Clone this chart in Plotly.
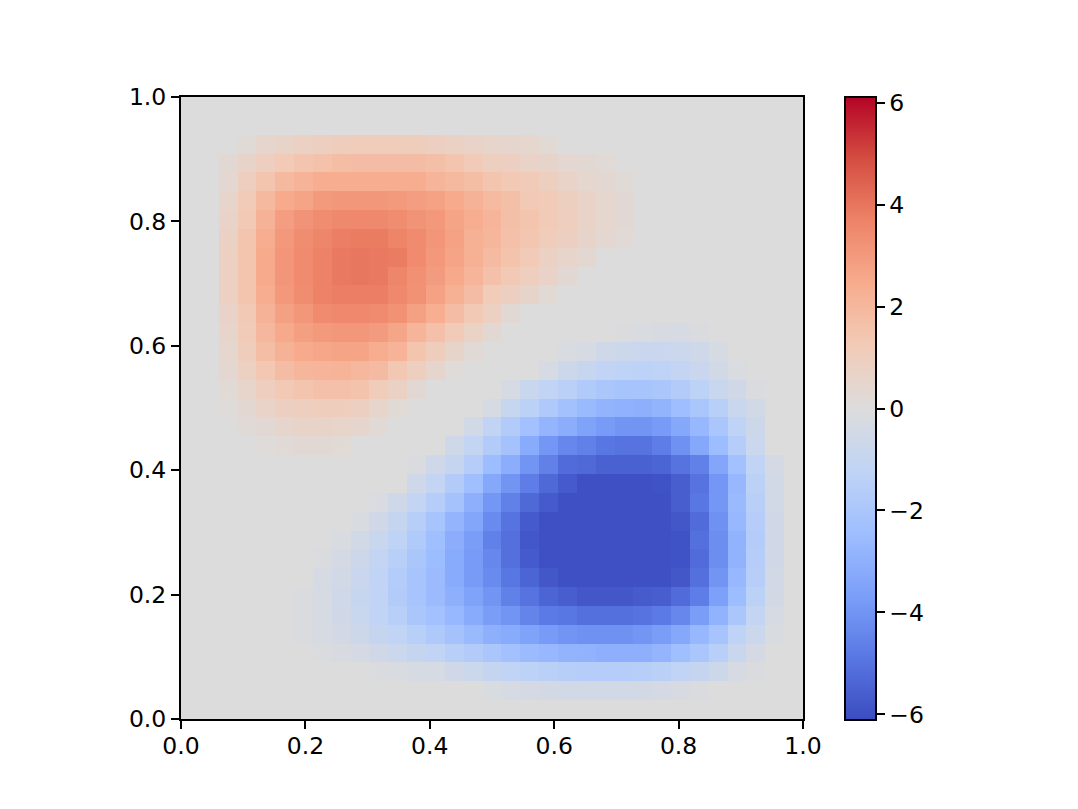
import plotly.graph_objects as go

x_ticks = [0.0, 0.2, 0.4, 0.6, 0.8, 1.0]
y_ticks = [0.0, 0.2, 0.4, 0.6, 0.8, 1.0]
bar_ticks = [-6, -4, -2, 0, 2, 4, 6]

# Heat values, one list per row of cells from the top of the picture down.
row00 = []
row01 = []
row02 = [0]*3 + [.15,.5,.65,.8,.9,1.05,1.1,1.1,1.1,1.05,.9,.8,.7,.6,.5,.45,.25]
row03 = [0]*2 + [.3,.65,1.0,1.25,1.45,1.6,1.75,1.8,1.8,1.8,1.8,1.7,1.5,1.2,.95,.9,.7,.55,.4,.3,.2]
row04 = [0]*2 + [.4,1.0,1.45,1.95,2.15,2.4,2.4,2.4,2.4,2.4,2.4,2.1,1.95,1.75,1.45,1.3,1.2,.95,.7,.45,.35,.15]
row05 = [0]*2 + [.6,1.2,1.95,2.5,2.7,3.0,3.1,3.1,3.1,3.0,2.9,2.75,2.5,2.2,1.9,1.7,1.3,1.2,.95,.7,.45,.3]
row06 = [0]*2 + [.7,1.3,2.2,2.9,3.2,3.4,3.5,3.55,3.5,3.4,3.2,3.05,2.7,2.4,2.1,1.7,1.45,1.2,1.0,.7,.45,.3]
row07 = [0]*2 + [.8,1.45,2.4,3.05,3.4,3.6,3.8,3.85,3.85,3.65,3.45,3.15,2.75,2.3,2.05,1.65,1.4,1.1,.9,.55,.4,.2]
row08 = [0]*2 + [.85,1.5,2.5,3.15,3.45,3.7,3.9,3.95,3.9,3.85,3.45,3.05,2.7,2.3,1.85,1.55,1.2,.8,.6,.35]
row09 = [0]*2 + [.85,1.5,2.5,3.15,3.45,3.7,3.9,3.95,3.9,3.6,3.3,2.95,2.55,2.1,1.65,1.3,1.0,.7,.3]
row10 = [0]*2 + [.85,1.45,2.4,3.05,3.4,3.7,3.8,3.8,3.8,3.55,3.25,2.75,2.3,1.8,1.15,.9,.55,.25]
row11 = [0]*2 + [.7,1.3,2.2,2.8,3.1,3.45,3.55,3.55,3.45,3.25,2.8,2.35,1.8,1.3,.85,.3]
row12 = [0]*2 + [.6,1.2,2.0,2.55,2.85,3.0,3.1,3.1,2.95,2.65,2.1,1.65,1.2,.75,.3] + [0]*6 + [-.1,-.2,-.25,-.3,-.15]
row13 = [0]*2 + [.45,1.05,1.75,2.2,2.5,2.6,2.7,2.7,2.4,2.15,1.5,1.05,.55,.2] + [0]*4 + [-.2,-.35,-.6,-.75,-.85,-.85,-.8,-.6,-.3]
row14 = [0]*2 + [.4,.85,1.35,1.8,2.05,2.1,2.15,2.0,1.85,1.35,1.0,.5,.1] + [0]*4 + [-.3,-.7,-.95,-1.2,-1.3,-1.35,-1.3,-1.1,-.85,-.5,-.2]
row15 = [0]*2 + [.25,.6,1.0,1.3,1.5,1.65,1.65,1.55,1.1,.8,.3] + [0]*4 + [-.3,-.9,-1.2,-1.45,-1.8,-2.0,-2.1,-2.1,-2.0,-1.7,-1.35,-.9,-.55,-.15]
row16 = [0]*2 + [.1,.35,.7,.9,1.0,1.05,1.05,.9,.6,.25] + [0]*4 + [-.3,-.95,-1.4,-1.85,-2.25,-2.6,-2.85,-2.95,-3.0,-2.85,-2.45,-2.0,-1.5,-.9,-.5]
row17 = [0]*3 + [.15,.3,.5,.65,.65,.6,.5,.2] + [0]*4 + [-.5,-1.15,-1.7,-2.3,-2.8,-3.1,-3.5,-3.8,-4.0,-4.0,-3.8,-3.3,-2.7,-2.0,-1.3,-.7]
row18 = [0]*4 + [.1,.2,.3,.3,.25] + [0]*5 + [-.6,-1.1,-1.7,-2.2,-3.2,-3.9,-4.4,-4.6,-4.9,-5.0,-5.0,-4.7,-4.1,-3.3,-2.5,-1.6,-.8]
row19 = [0]*12 + [-.15,-.6,-1.0,-1.6,-2.5,-3.1,-4.0,-4.6,-5.2,-5.3,-5.5,-5.5,-5.5,-5.4,-5.0,-4.6,-3.4,-2.3,-1.2,-.4]
row20 = [0]*12 + [-.6,-1.1,-1.7,-2.4,-3.3,-4.0,-4.7,-5.3,-5.7,-6.0,-6.0,-6.0,-6.0,-5.9,-5.6,-5.0,-3.9,-2.7,-1.4,-.5]
row21 = [0]*10 + [-.2,-.6,-1.1,-1.6,-2.2,-3.0,-3.9,-4.6,-5.3,-5.7,-6.0,-6.0,-6.0,-6.0,-6.0,-6.0,-5.6,-4.9,-3.9,-2.6,-1.5,-.5]
row22 = [0]*9 + [-.2,-.55,-1.0,-1.55,-2.1,-2.8,-3.4,-4.3,-5.0,-5.7,-6.0,-6.0,-6.0,-6.0,-6.0,-6.0,-6.0,-5.8,-5.2,-4.1,-2.7,-1.6,-.55]
row23 = [0]*8 + [-.2,-.5,-.9,-1.3,-1.8,-2.4,-3.1,-3.7,-4.6,-5.1,-5.8,-6.0,-6.0,-6.0,-6.0,-6.0,-6.0,-6.0,-5.9,-5.1,-4.2,-2.9,-1.65,-.55]
row24 = [0]*7 + [-.15,-.4,-.7,-1.1,-1.5,-2.0,-2.5,-3.2,-3.8,-4.4,-5.1,-5.7,-6.0,-6.0,-6.0,-6.0,-6.0,-6.0,-6.0,-5.9,-5.2,-4.2,-2.9,-1.6,-.55]
row25 = [0]*7 + [-.3,-.5,-.85,-1.2,-1.65,-2.1,-2.55,-3.2,-3.8,-4.3,-4.9,-5.4,-5.8,-6.0,-6.0,-6.0,-6.0,-6.0,-6.0,-5.8,-5.1,-4.0,-2.7,-1.55,-.5]
row26 = [0]*6 + [-.15,-.35,-.6,-.95,-1.2,-1.7,-2.1,-2.55,-3.0,-3.5,-4.0,-4.6,-5.0,-5.4,-5.6,-5.8,-5.8,-5.8,-5.65,-5.6,-5.2,-4.7,-3.6,-2.5,-1.4,-.45]
row27 = [0]*6 + [-.15,-.35,-.55,-.9,-1.2,-1.5,-2.0,-2.3,-2.7,-3.2,-3.7,-4.0,-4.5,-4.8,-4.9,-5.1,-5.1,-5.1,-5.0,-4.8,-4.4,-3.7,-2.9,-2.0,-1.1,-.3]
row28 = [0]*6 + [-.15,-.3,-.45,-.7,-1.0,-1.2,-1.5,-1.85,-2.2,-2.6,-3.0,-3.2,-3.5,-3.8,-4.0,-4.1,-4.1,-4.1,-3.95,-3.7,-3.3,-2.7,-2.1,-1.3,-.8,-.2]
row29 = [0]*7 + [-.15,-.25,-.4,-.55,-.8,-1.0,-1.2,-1.5,-1.7,-2.0,-2.3,-2.55,-2.7,-2.85,-2.9,-3.0,-3.0,-3.0,-2.8,-2.4,-2.0,-1.5,-.9,-.4]
row30 = [0]*9 + [-.05,-.15,-.2,-.3,-.35,-.55,-.75,-1.0,-1.2,-1.35,-1.45,-1.55,-1.6,-1.6,-1.6,-1.55,-1.45,-1.2,-1.0,-.7,-.35,-.15]
row31 = [0]*16 + [-.2,-.3,-.4,-.45,-.5,-.5,-.5,-.5,-.45,-.4,-.25,-.15,-.05]
row32 = []

rows_top_down = [row00, row01, row02, row03, row04, row05, row06, row07, row08, row09, row10,
                 row11, row12, row13, row14, row15, row16, row17, row18, row19, row20, row21,
                 row22, row23, row24, row25, row26, row27, row28, row29, row30, row31, row32]

N = len(rows_top_down)
z = [r + [0] * (N - len(r)) for r in reversed(rows_top_down)]

coolwarm = [[0.0, "#3b4cc0"], [0.1, "#5977e3"], [0.2, "#7b9ff9"], [0.3, "#9ebeff"],
            [0.4, "#c0d4f5"], [0.5, "#dddcdc"], [0.6, "#f2cbb7"], [0.7, "#f7ac8e"],
            [0.8, "#ee8468"], [0.9, "#d44e41"], [1.0, "#b40426"]]

# The page keeps an 8 px body margin, so every position is 8 px less than on the picture.
W, H = 1062, 793
L, R, T, B = 173, 795, 89, 711.5
font = dict(family="DejaVu Sans", size=23.5, color="black")

fig = go.Figure(go.Heatmap(
    z=z, x0=0.5 / N, dx=1 / N, y0=0.5 / N, dy=1 / N,
    colorscale=coolwarm, zmin=-6.11, zmax=6.11, zsmooth=False,
    colorbar=dict(
        x=(837 - L) / (R - L), xanchor="left", xpad=0, thickness=31, thicknessmode="pixels",
        y=1, yanchor="top", ypad=0, len=B - T, lenmode="pixels",
        tickmode="array", tickvals=bar_ticks, ticks="outside", ticklen=8, tickwidth=2,
        tickcolor="black", outlinecolor="black", outlinewidth=2, tickfont=font,
    ),
))

axis = dict(range=[0, 1], tickmode="array", tickformat=".1f", ticks="outside", ticklen=8,
            tickwidth=2, tickcolor="black", showline=True, linecolor="black", linewidth=2,
            mirror=True, showgrid=False, zeroline=False, tickfont=font)

fig.update_layout(
    width=W, height=H, autosize=False,
    margin=dict(l=L, r=W - R, t=T, b=H - B, autoexpand=False),
    paper_bgcolor="white", plot_bgcolor="white", font=font,
    xaxis=dict(axis, tickvals=x_ticks, ticklabelstandoff=-3),
    yaxis=dict(axis, tickvals=y_ticks),
)
fig.write_html("out.html")
